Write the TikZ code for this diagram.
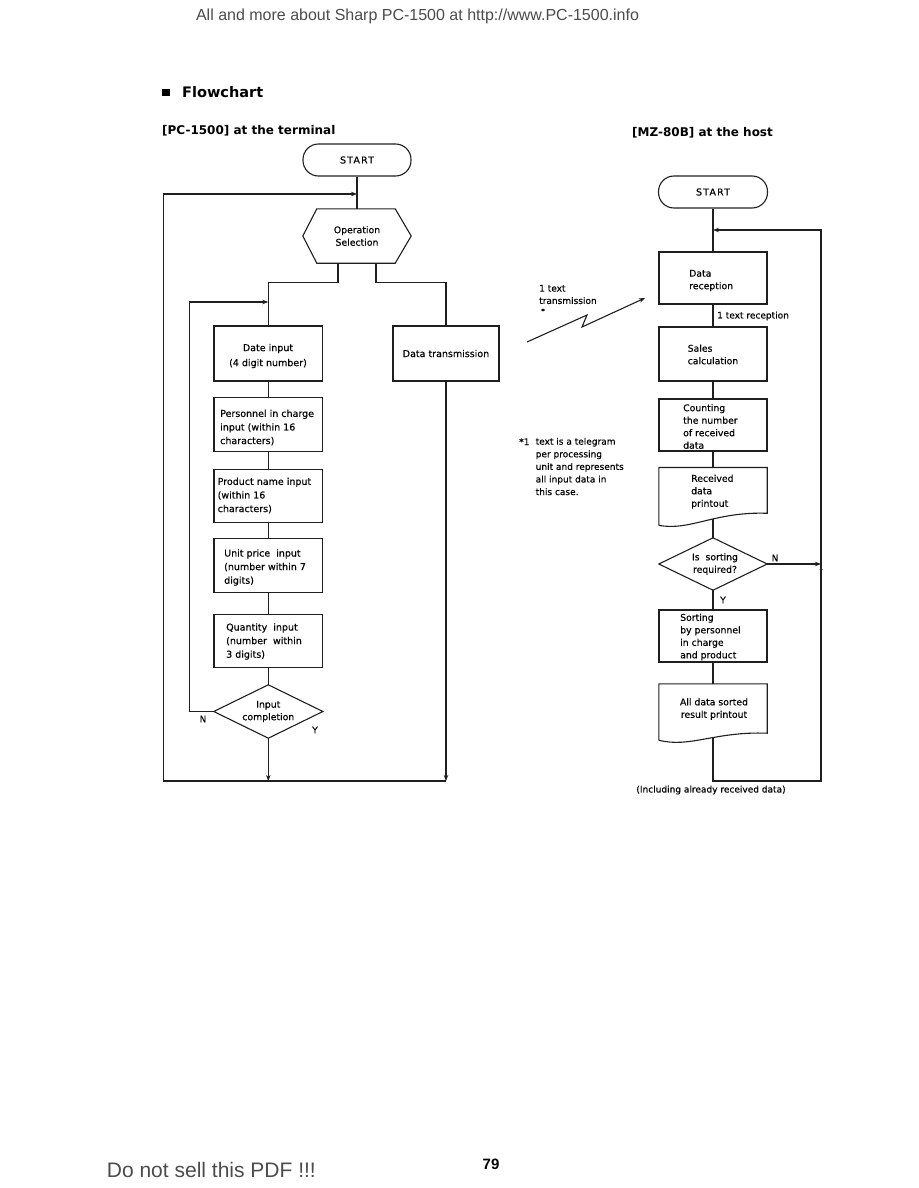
\documentclass[tikz,border=0pt]{standalone}
\usepackage{fontspec}
\setmainfont{DejaVu Sans}[UprightFeatures={FakeBold=0.35}]
\newfontfamily\arialf{Liberation Sans}
\usetikzlibrary{arrows.meta,calc}
\newcommand\fsm{\fontsize{9.5}{13.6}\selectfont}
\newcommand\fsr{\fontsize{9.3}{12.5}\selectfont}
\newcommand\fsn{\fontsize{9}{12.6}\selectfont}
\begin{document}
\begin{tikzpicture}[x=1pt,y=-1pt,
  ln/.style={line width=1.1pt, draw=black!88},
  arr/.style={ln,-{Stealth[length=6pt,width=4.5pt]}},
  box/.style={ln, draw, rectangle, minimum width=108pt, minimum height=54pt, inner sep=0pt},
  term/.style={ln, draw, rounded corners=15.5pt, minimum width=108pt, minimum height=32pt, inner sep=0pt, font=\fsm},
  shp/.style={minimum width=108pt, minimum height=54pt, inner sep=0pt},
  tl/.style={font=\fsm, align=left, inner sep=0pt, anchor=west},
  tr/.style={font=\fsr, align=left, inner sep=0pt, anchor=west},
  tc/.style={font=\fsm, align=center, inner sep=0pt},
  lab/.style={font=\fsn, inner sep=0pt},
]
\fill[white] (0,0) rectangle (918,1188);
\useasboundingbox (0,0) rectangle (918,1188);

% header / footer
\node[font=\arialf\fontsize{16}{18}\selectfont, text=black!70] (hdr) at (417.5,16) {All and more about Sharp PC-1500 at http://www.PC-1500.info};
\node[font=\arialf\fontsize{21}{24}\selectfont, text=black!70, anchor=west, inner sep=0pt] (ftr) at (106.7,1170) {Do not sell this PDF !!!};
\node[font=\arialf\bfseries\fontsize{15}{18}\selectfont, inner sep=0pt] (pg) at (491,1164) {79};

% titles
\fill (162,89.3) rectangle (170,96);
\node[font=\bfseries\fontsize{14.5}{17}\selectfont, anchor=west, inner sep=0pt] (ttl) at (182,92.5) {Flowchart};
\node[font=\bfseries\fontsize{12}{14}\selectfont, anchor=west, inner sep=0pt] (hl) at (162,131) {[PC-1500] at the terminal};
\node[font=\bfseries\fontsize{12}{14}\selectfont, anchor=west, inner sep=0pt] (hr) at (632,133) {[MZ-80B] at the host};

% ---------------- left column ----------------
\node[term] (lstart) at (357,160) {\addfontfeature{LetterSpace=12}START};
\node[shp, minimum width=108pt, font=\fsr, align=center] (opsel) at (357,236) {Operation\\Selection};
\draw[ln] (opsel.west) -- ([xshift=14pt]opsel.north west) -- ([xshift=-16pt]opsel.north east) -- (opsel.east) -- ([xshift=-16pt]opsel.south east) -- ([xshift=14pt]opsel.south west) -- cycle;

\node[box, minimum width=108.7pt, minimum height=55pt] (date) at (268.3,353.5) {};
\node[tc, font=\fontsize{9.5}{15}\selectfont] (datet) at (268,356) {Date input\\(4 digit number)};
\node[box, minimum width=108.7pt] (pers) at (268.3,424.7) {};
\node[tl] (perst) at (220,427.5) {Personnel in charge\\input (within 16\\characters)};
\node[box, minimum width=108.7pt, minimum height=53.7pt] (prod) at (268.3,496) {};
\node[tl] (prodt) at (217.5,495.5) {Product name input\\(within 16\\characters)};
\node[box, minimum width=108.7pt, minimum height=53.6pt] (unit) at (268.3,565.5) {};
\node[tl] (unitt) at (224,567.5) {Unit price\ \ input\\(number within 7\\digits)};
\node[box, minimum width=108.7pt, minimum height=53.3pt] (qty) at (268.3,640.7) {};
\node[tl] (qtyt) at (226,641.5) {Quantity\ \ input\\(number\ \ within\\3 digits)};
\node[shp, minimum width=108.7pt, minimum height=53pt, font=\fsr, align=center] (inpc) at (268.3,711.5) {Input\\completion};
\draw[ln] (inpc.north) -- (inpc.east) -- (inpc.south) -- (inpc.west) -- cycle;

\node[box, minimum width=106pt, minimum height=55pt, font=\fsm] (dtx) at (446,353.5) {Data transmission};

\coordinate (j1) at (357,194);
\coordinate (j2) at (268.3,302);
\coordinate (botL) at (163.5,781);
\coordinate (b1) at (268.3,781);
\coordinate (b2) at (446,781);

\draw[ln] (lstart) -- (opsel);
\draw[ln] ([xshift=-19pt]opsel.south) -- ++(0,19) -| (date.north);
\draw[ln] ([xshift=19pt]opsel.south) -- ++(0,19) -| (dtx.north);
\draw[ln] (date) -- (pers);
\draw[ln] (pers) -- (prod);
\draw[ln] (prod) -- (unit);
\draw[ln] (unit) -- (qty);
\draw[ln] (qty) -- (inpc);
\draw[arr] (inpc.west) -- ++(-24,0) |- (j2);
\draw[arr] (inpc.south) -- (b1);
\draw[arr] (dtx.south) -- (b2);
\draw[arr] (b2) -- (botL) |- (j1);
\node[lab] (ln1) at (203,719) {N};
\node[lab] (ly1) at (315,730) {Y};

% ---------------- middle ----------------
\node[lab, anchor=west, align=left, font=\fontsize{9}{12.4}\selectfont] (ttx) at (539,294.5) {1 text\\transmission};
\node[lab, font=\fontsize{7}{8}\selectfont] (ast) at (543,311) {*};
\coordinate (l1) at (527,342);
\coordinate (l2) at (587,315);
\coordinate (l3) at (582,327);
\coordinate (l4) at (645,298);
\draw[arr] (l1) -- (l2) -- (l3) -- (l4);
\node[lab, anchor=west] (n1) at (519,441.7) {*1};
\node[lab, anchor=west, align=left] (note) at (535.5,466.5) {text is a telegram\\per processing\\unit and represents\\all input data in\\this case.};

% ---------------- right column ----------------
\node[term, minimum width=109pt] (rstart) at (713,192) {\addfontfeature{LetterSpace=12}START};
\node[box, minimum width=108pt, minimum height=52pt] (drec) at (713,278) {};
\node[tr] (drect) at (689,280.5) {Data\\reception};
\node[box, minimum width=108pt, minimum height=54pt] (sales) at (713,354) {};
\node[tr] (salest) at (687.5,354.5) {Sales\\calculation};
\node[box, minimum width=108pt, minimum height=52pt] (count) at (713,425) {};
\node[tr] (countt) at (683,426.5) {Counting\\the number\\of received\\data};
\node[shp, minimum width=108pt, minimum height=45.4pt] (recv) at (713,490.4) {};
\draw[ln] ([yshift=-12pt]recv.south west) -- (recv.north west) -- (recv.north east) -- (recv.south east)
  .. controls ([xshift=-52pt,yshift=2pt]recv.south east) and ([xshift=31pt,yshift=-18pt]recv.south west) .. ([yshift=-12pt]recv.south west);
\node[tr] (recvt) at (691,491.7) {Received\\data\\printout};
\node[shp, minimum width=108pt, minimum height=52pt, font=\fsr, align=center] (sortq) at (713,564) {\hspace*{4pt}Is\ \ sorting\\\hspace*{4pt}required?};
\draw[ln] (sortq.north) -- (sortq.east) -- (sortq.south) -- (sortq.west) -- cycle;
\node[box, minimum width=108pt, minimum height=52pt] (sortb) at (713,636) {};
\node[tr] (sortbt) at (680,637) {Sorting\\by personnel\\in charge\\and product};
\node[shp, minimum width=108pt, minimum height=49pt] (alls) at (713,708.5) {};
\draw[ln] ([yshift=-7pt]alls.south west) -- (alls.north west) -- (alls.north east) -- (alls.south east)
  .. controls ([xshift=-52pt,yshift=2pt]alls.south east) and ([xshift=31pt,yshift=-15pt]alls.south west) .. ([yshift=-7pt]alls.south west);
\node[tc, font=\fsr] (allst) at (714,709) {All data sorted\\result printout};

\coordinate (rj) at (713,230);
\coordinate (rbr) at (821,781);

\draw[ln] (rstart) -- (drec);
\draw[ln] (drec) -- (sales);
\draw[ln] (sales) -- (count);
\draw[ln] (count) -- (recv);
\draw[ln] ([yshift=-6pt]recv.south) -- (sortq.north);
\draw[arr] (sortq.east) -- (sortq.east -| rbr);
\draw[ln] (sortq) -- (sortb);
\draw[ln] (sortb) -- (alls);
\draw[arr] ([yshift=-4pt]alls.south) |- (rbr) |- (rj);
\fill[black!85] (821,569.5) circle (1.5pt);

\node[lab, anchor=west] (trec) at (717,316) {1 text reception};
\node[lab] (ln2) at (775,558) {N};
\node[lab] (ly2) at (723,600) {Y};
\node[lab] (incl) at (711,790) {(Including already received data)};
\end{tikzpicture}
\end{document}
